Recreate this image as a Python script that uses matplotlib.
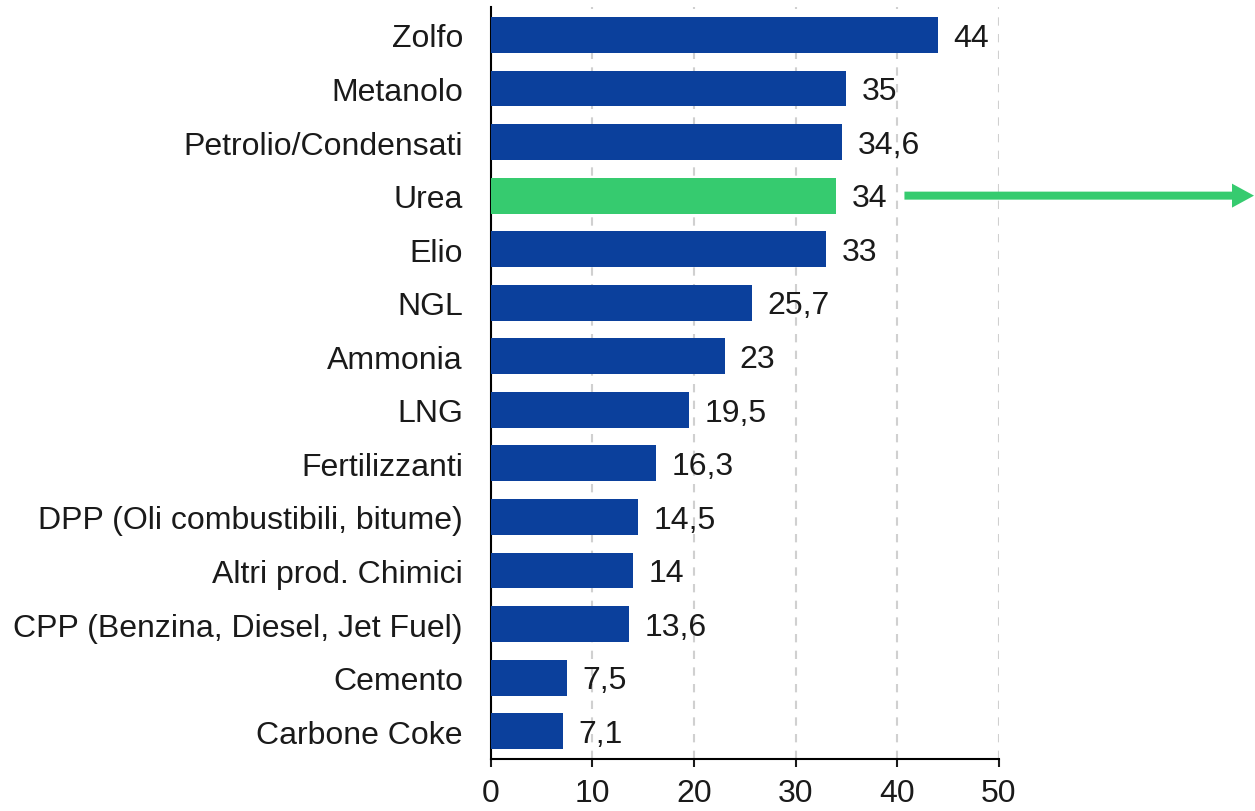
import matplotlib.pyplot as plt
from matplotlib.patches import FancyArrow
from matplotlib.transforms import IdentityTransform

plt.rcParams['font.family'] = ['Liberation Sans', 'DejaVu Sans']

categories = ['Zolfo', 'Metanolo', 'Petrolio/Condensati', 'Urea', 'Elio', 'NGL',
              'Ammonia', 'LNG', 'Fertilizzanti', 'DPP (Oli combustibili, bitume)',
              'Altri prod. Chimici', 'CPP (Benzina, Diesel, Jet Fuel)', 'Cemento',
              'Carbone Coke']
values = [44, 35, 34.6, 34, 33, 25.7, 23, 19.5, 16.3, 14.5, 14, 13.6, 7.5, 7.1]
highlight = 'Urea'

blue = '#0B409C'
green = '#36CB6F'
text_color = '#1a1a1a'

fig = plt.figure(figsize=(12.55, 8.12), dpi=100)
ax = fig.add_axes([0.391, 0.064, 0.405, 0.926])

colors = [green if c == highlight else blue for c in categories]
y = list(range(len(categories)))
ax.barh(y, values, height=0.67, color=colors, zorder=3)

for yi, v in zip(y, values):
    txt = f'{v:g}'.replace('.', ',')
    ax.text(v + 1.5, yi + 0.05, txt, va='center', ha='left', fontsize=23, color=text_color)

ax.set_yticks(y)
ax.set_yticklabels(categories, fontsize=23, color=text_color)
ax.set_ylim(len(categories) - 0.48, -0.52)
ax.set_xlim(0, 50)
ax.set_xticks(range(0, 51, 10))
ax.tick_params(axis='x', labelsize=23, length=6, width=1.5, pad=8, colors=text_color)
ax.tick_params(axis='y', length=0, pad=20)

ax.grid(axis='x', linestyle=(0, (4, 4)), color='#d0d0d0', linewidth=1.5, zorder=0)
for s in ['top', 'right']:
    ax.spines[s].set_visible(False)
ax.spines['left'].set_linewidth(1.5)
ax.spines['bottom'].set_linewidth(1.5)

# green arrow pointing right from the Urea bar, running to the figure edge (pixels)
ui = categories.index(highlight)
x_start, y_px = ax.transData.transform((40.7, ui))
x_end = fig.bbox.width - 1
arrow = FancyArrow(x_start, y_px, x_end - x_start, 0, width=8, head_width=24,
                   head_length=22, length_includes_head=True,
                   color=green, lw=0, transform=IdentityTransform())
fig.patches.append(arrow)

fig.savefig('out.png', dpi=100)
